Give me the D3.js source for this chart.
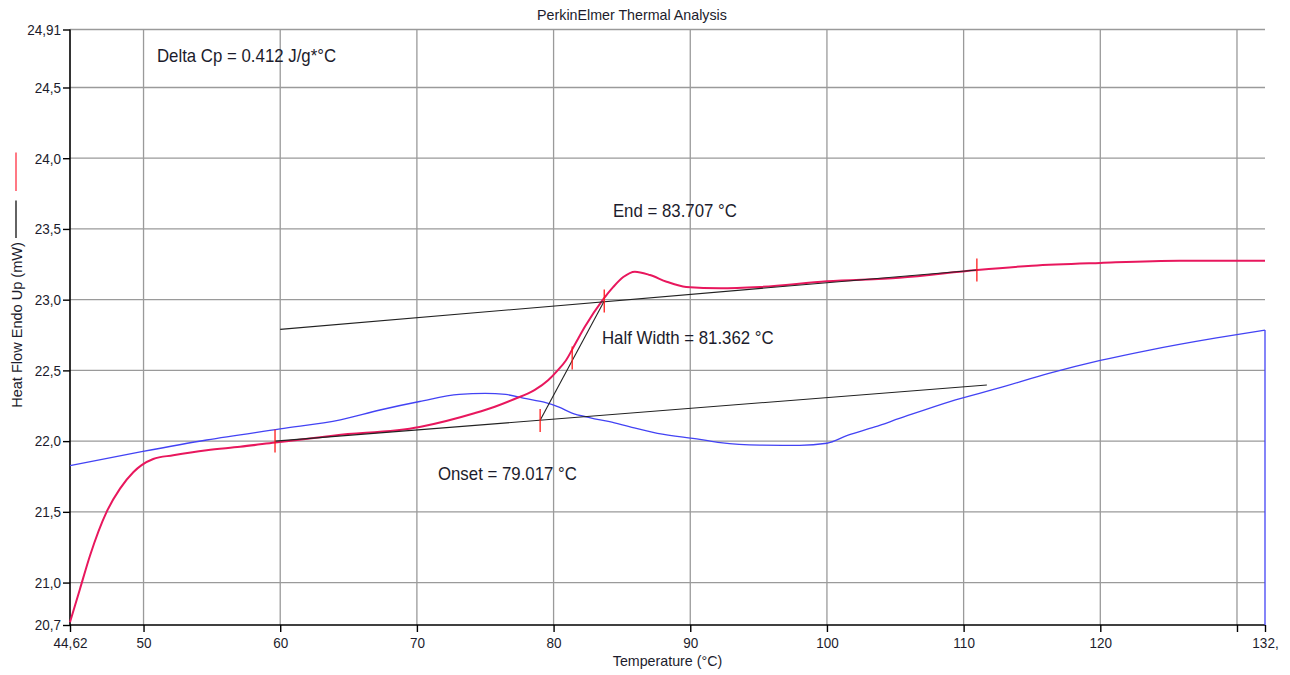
<!DOCTYPE html>
<html>
<head>
<meta charset="utf-8">
<script src="https://cdn.jsdelivr.net/npm/d3@7"></script>
<style>
  body { margin: 0; background: #fff; }
  text { font-family: "Liberation Sans", Arial, sans-serif; fill: #1c1c2c; }
</style>
</head>
<body>
<div id="chart"></div>
<script>
// sample run (red) - temperature / heat flow
var redT  = [44.62, 45.35, 46.08, 47.30, 48.28, 49.25, 49.86, 50.71, 52.17, 54.62, 57.06, 59.62,
             64.0, 70.2, 74.2, 75.7, 77.1, 78.6, 79.6, 80.3, 80.9, 81.6, 82.3, 83.6, 84.37, 85.1,
             85.95, 87.05, 88.27, 89.7, 92.2, 95.1, 100.0, 105.3, 111.0, 115.0, 120.0, 125.8, 132.05];
var redHF = [20.72, 20.955, 21.19, 21.50, 21.664, 21.78, 21.83, 21.874, 21.90, 21.936, 21.96, 21.99,
             22.04, 22.10, 22.197, 22.243, 22.296, 22.36, 22.43, 22.50, 22.57, 22.69, 22.81, 22.998, 23.09, 23.16,
             23.198, 23.174, 23.127, 23.09, 23.08, 23.09, 23.13, 23.155, 23.21, 23.24, 23.26, 23.275, 23.275];

// reference run (blue)
var blueT  = [44.62, 49.86, 54.62, 60.0, 64.4, 67.3, 70.2, 73.1, 75.0, 76.5, 78.0, 79.3, 80.4, 81.3,
              82.7, 84.1, 85.6, 87.6, 90.7, 92.2, 95.1, 98.0, 100.0, 101.5, 103.5, 105.3, 109.0,
              112.6, 116.3, 120.0, 123.6, 128.5, 132.05, 132.05];
var blueHF = [21.826, 21.925, 22.008, 22.086, 22.15, 22.22, 22.28, 22.33, 22.337, 22.33, 22.30, 22.275, 22.24, 22.20,
              22.165, 22.137, 22.10, 22.055, 22.013, 21.99, 21.972, 21.97, 21.985, 22.04, 22.10, 22.16, 22.28,
              22.376, 22.48, 22.57, 22.644, 22.73, 22.785, 20.7];

// analysis construction lines
var upperBaseT = [60.0, 111.0], upperBaseHF = [22.79, 23.21];
var lowerBaseT = [59.62, 111.7], lowerBaseHF = [22.0, 22.397];
var tangentT = [79.017, 83.707], tangentHF = [22.148, 22.99];

// red tick marks on the curve
var markT  = [59.62, 79.017, 81.362, 83.707, 110.97];
var markHF = [22.0, 22.146, 22.588, 22.99, 23.21];

var xTickValues = [44.62, 50, 60, 70, 80, 90, 100, 110, 120, 130, 132.05];
var xTickLabels = ["44,62", "50", "60", "70", "80", "90", "100", "110", "120", "", "132,"];
var yTickValues = [20.7, 21.0, 21.5, 22.0, 22.5, 23.0, 23.5, 24.0, 24.5, 24.91];
var yTickLabels = ["20,7", "21,0", "21,5", "22,0", "22,5", "23,0", "23,5", "24,0", "24,5", "24,91"];

var annotations = [
  { t: "Delta Cp = 0.412 J/g*°C", x: 50.98, y: 24.73 },
  { t: "End = 83.707 °C", x: 84.34, y: 23.634 },
  { t: "Half Width = 81.362 °C", x: 83.54, y: 22.736 },
  { t: "Onset = 79.017 °C", x: 71.54, y: 21.775 }
];

var width = 1290, height = 675;
var plotL = 70, plotR = 1265, plotT = 29.5, plotB = 625;

var x = d3.scaleLinear().domain([44.62, 132.05]).range([plotL, plotR]);
var y = d3.scaleLinear().domain([20.7, 24.91]).range([plotB, plotT]);

// the original print uses a slightly narrow face
function condense(sel, f) {
  sel.each(function() {
    var w = this.getComputedTextLength();
    if (w > 0) d3.select(this).attr("textLength", w * f).attr("lengthAdjust", "spacingAndGlyphs");
  });
}

var svg = d3.select("#chart").append("svg")
  .attr("width", width)
  .attr("height", height);

// grid
svg.append("g").selectAll("line")
  .data(xTickValues.slice(1, -1))
  .enter().append("line")
  .attr("x1", function(d) { return x(d); })
  .attr("x2", function(d) { return x(d); })
  .attr("y1", plotT).attr("y2", plotB)
  .attr("stroke", "#9a9a9a").attr("stroke-width", 1.3);

svg.append("g").selectAll("line")
  .data(yTickValues.slice(1))
  .enter().append("line")
  .attr("x1", plotL).attr("x2", plotR)
  .attr("y1", function(d) { return y(d); })
  .attr("y2", function(d) { return y(d); })
  .attr("stroke", "#9a9a9a").attr("stroke-width", 1.3);

// axes
var xAxis = d3.axisBottom(x).tickValues(xTickValues).tickSize(7)
  .tickFormat(function(d, i) { return xTickLabels[i]; });
var yAxis = d3.axisLeft(y).tickValues(yTickValues).tickSize(7)
  .tickFormat(function(d, i) { return yTickLabels[i]; });

var gx = svg.append("g").attr("transform", "translate(0," + plotB + ")").call(xAxis);
var gy = svg.append("g").attr("transform", "translate(" + plotL + ",0)").call(yAxis);

[gx, gy].forEach(function(g) {
  g.select(".domain").attr("stroke", "#000").attr("stroke-width", 1.6);
  g.selectAll(".tick line").attr("stroke", "#000").attr("stroke-width", 1.4);
  g.selectAll(".tick text").style("font-size", "15px")
    .style("font-family", "'Liberation Sans', Arial, sans-serif").attr("fill", "#1c1c2c");
  condense(g.selectAll(".tick text"), 0.9);
});
gx.select(".domain").attr("d", "M" + plotL + ",0H" + plotR);
gy.select(".domain").attr("d", "M0," + plotB + "V" + plotT);
gx.selectAll(".tick text").attr("dy", "0.85em");
gy.selectAll(".tick text").attr("x", -9);

// curves
var line = d3.line()
  .x(function(d) { return x(d[0]); })
  .y(function(d) { return y(d[1]); })
  .curve(d3.curveMonotoneX);

var blueData = d3.zip(blueT, blueHF);
svg.append("path")
  .datum(blueData.slice(0, -1))
  .attr("d", line)
  .attr("fill", "none").attr("stroke", "#4343f4").attr("stroke-width", 1.3);
svg.append("line")
  .attr("x1", x(blueT[blueT.length - 1])).attr("x2", x(blueT[blueT.length - 1]))
  .attr("y1", y(blueHF[blueHF.length - 2])).attr("y2", y(blueHF[blueHF.length - 1]))
  .attr("stroke", "#4343f4").attr("stroke-width", 1.3);

svg.append("path")
  .datum(d3.zip(redT, redHF))
  .attr("d", line)
  .attr("fill", "none").attr("stroke", "#e8175d").attr("stroke-width", 2);

// construction lines
var straight = d3.line()
  .x(function(d) { return x(d[0]); })
  .y(function(d) { return y(d[1]); });

[[upperBaseT, upperBaseHF], [lowerBaseT, lowerBaseHF], [tangentT, tangentHF]].forEach(function(p) {
  svg.append("path")
    .datum(d3.zip(p[0], p[1]))
    .attr("d", straight)
    .attr("fill", "none").attr("stroke", "#222").attr("stroke-width", 1.1);
});

// red marks
svg.append("g").selectAll("line")
  .data(d3.zip(markT, markHF))
  .enter().append("line")
  .attr("x1", function(d) { return x(d[0]); })
  .attr("x2", function(d) { return x(d[0]); })
  .attr("y1", function(d) { return y(d[1]) - 11.5; })
  .attr("y2", function(d) { return y(d[1]) + 11.5; })
  .attr("stroke", "#ff1a1a").attr("stroke-width", 1.3);

// annotations
var ann = svg.append("g").selectAll("text")
  .data(annotations)
  .enter().append("text")
  .attr("x", function(d) { return x(d.x); })
  .attr("y", function(d) { return y(d.y); })
  .attr("dy", "0.35em")
  .style("font-size", "19px")
  .text(function(d) { return d.t; });
condense(ann, 0.885);

// titles
var title = svg.append("text")
  .attr("x", 632).attr("y", 15).attr("dy", "0.35em")
  .attr("text-anchor", "middle")
  .style("font-size", "15px")
  .text("PerkinElmer Thermal Analysis");
condense(title, 0.95);

var xTitle = svg.append("text")
  .attr("x", (plotL + plotR) / 2).attr("y", 661).attr("dy", "0.35em")
  .attr("text-anchor", "middle")
  .style("font-size", "15px")
  .text("Temperature (°C)");
condense(xTitle, 0.95);

var yTitle = svg.append("text")
  .attr("transform", "translate(17,325) rotate(-90)")
  .attr("dy", "0.35em")
  .attr("text-anchor", "middle")
  .style("font-size", "15px")
  .text("Heat Flow Endo Up (mW)");
condense(yTitle, 0.97);

// legend marks next to y title
svg.append("line").attr("x1", 16).attr("x2", 16).attr("y1", 152.5).attr("y2", 191)
  .attr("stroke", "#ff4050").attr("stroke-width", 1.4);
svg.append("line").attr("x1", 16).attr("x2", 16).attr("y1", 200.5).attr("y2", 238)
  .attr("stroke", "#222").attr("stroke-width", 1.4);
</script>
</body>
</html>
